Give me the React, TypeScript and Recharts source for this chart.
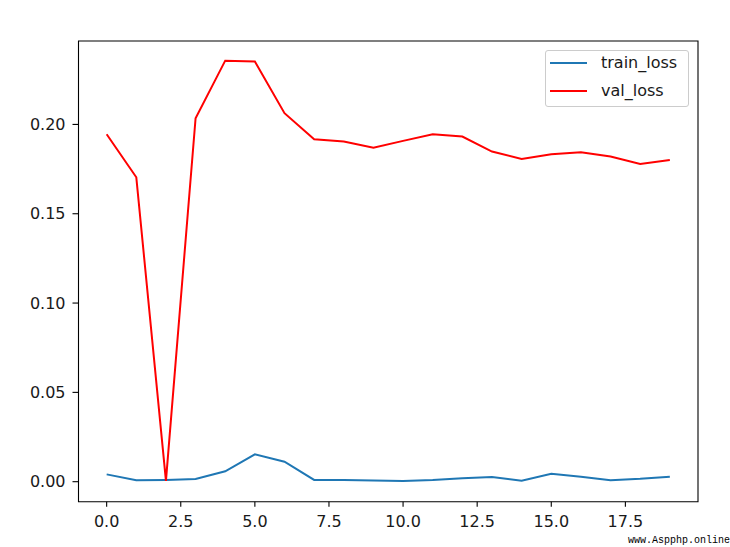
import React from 'react';
import { LineChart, Line, XAxis, YAxis, ReferenceArea } from 'recharts';

const epochs = [0, 1, 2, 3, 4, 5, 6, 7, 8, 9, 10, 11, 12, 13, 14, 15, 16, 17, 18, 19];
const trainLoss = [0.0041, 0.0008, 0.001, 0.0015, 0.0058, 0.0153, 0.0112, 0.001, 0.001, 0.0007, 0.0004, 0.0009, 0.0019, 0.0026, 0.0006, 0.0045, 0.0028, 0.0008, 0.0016, 0.0028];
const valLoss = [0.1945, 0.1704, 0.0005, 0.2035, 0.2357, 0.2352, 0.2063, 0.1917, 0.1904, 0.187, 0.1908, 0.1945, 0.1932, 0.1848, 0.1807, 0.1833, 0.1844, 0.182, 0.1779, 0.1801];
const xTicks = [0, 2.5, 5, 7.5, 10, 12.5, 15, 17.5];
const yTicks = [0, 0.05, 0.1, 0.15, 0.2];
const seriesNames = ['train_loss', 'val_loss'];
const seriesColors = ['#1f77b4', '#ff0000'];

const data = epochs.map((e, i) => ({ epoch: e, train_loss: trainLoss[i], val_loss: valLoss[i] }));

const X_DOMAIN: [number, number] = [-0.95, 19.95];
const Y_DOMAIN: [number, number] = [-0.0112, 0.2467];

const font = '"DejaVu Sans", sans-serif';
const textColor = '#1a1a1a';

export default function App() {
  return (
    <div style={{ position: 'absolute', left: 0, top: 0, width: 730, height: 547, background: '#fff' }}>
      <LineChart width={730} height={547} data={data} margin={{ top: 41, right: 32, left: 0, bottom: 0 }}>
        <XAxis
          dataKey="epoch"
          type="number"
          domain={X_DOMAIN}
          ticks={xTicks}
          allowDataOverflow
          height={45.3}
          tickFormatter={(v: number) => v.toFixed(1)}
          tick={{ fill: textColor, fontSize: 16, fontFamily: font }}
          tickSize={5}
          tickMargin={9}
          axisLine={false}
          tickLine={{ stroke: '#000', strokeWidth: 1.1 }}
        />
        <YAxis
          type="number"
          domain={Y_DOMAIN}
          ticks={yTicks}
          allowDataOverflow
          width={78.5}
          tickFormatter={(v: number) => v.toFixed(2)}
          tick={{ fill: textColor, fontSize: 16, fontFamily: font }}
          tickSize={6}
          tickMargin={7}
          axisLine={false}
          tickLine={{ stroke: '#000', strokeWidth: 1.1 }}
        />
        <ReferenceArea
          x1={X_DOMAIN[0]}
          x2={X_DOMAIN[1]}
          y1={Y_DOMAIN[0]}
          y2={Y_DOMAIN[1]}
          fill="none"
          stroke="#000"
          strokeWidth={1.1}
          ifOverflow="visible"
        />
        <Line dataKey="train_loss" name={seriesNames[0]} stroke={seriesColors[0]} strokeWidth={2} dot={false} isAnimationActive={false} />
        <Line dataKey="val_loss" name={seriesNames[1]} stroke={seriesColors[1]} strokeWidth={2} dot={false} isAnimationActive={false} />
      </LineChart>
      <div
        style={{
          position: 'absolute',
          left: 545,
          top: 50,
          width: 142,
          height: 55,
          border: '1px solid #cccccc',
          borderRadius: 3,
          background: 'rgba(255,255,255,0.8)',
          fontFamily: font,
          fontSize: 16,
          color: textColor,
        }}
      >
        {seriesNames.map((name, i) => (
          <div key={name} style={{ position: 'relative', height: 27.5 }}>
            <div style={{ position: 'absolute', left: 4, top: 11, width: 37, height: 2, background: seriesColors[i] }} />
            <div style={{ position: 'absolute', left: 55, top: 2, lineHeight: '19px' }}>{name}</div>
          </div>
        ))}
      </div>
      <div
        style={{
          position: 'absolute',
          left: 628,
          top: 535,
          fontFamily: '"Liberation Mono", monospace',
          fontSize: 10,
          lineHeight: '12px',
          color: '#000',
          whiteSpace: 'nowrap',
        }}
      >
        www.Aspphp.online
      </div>
    </div>
  );
}
